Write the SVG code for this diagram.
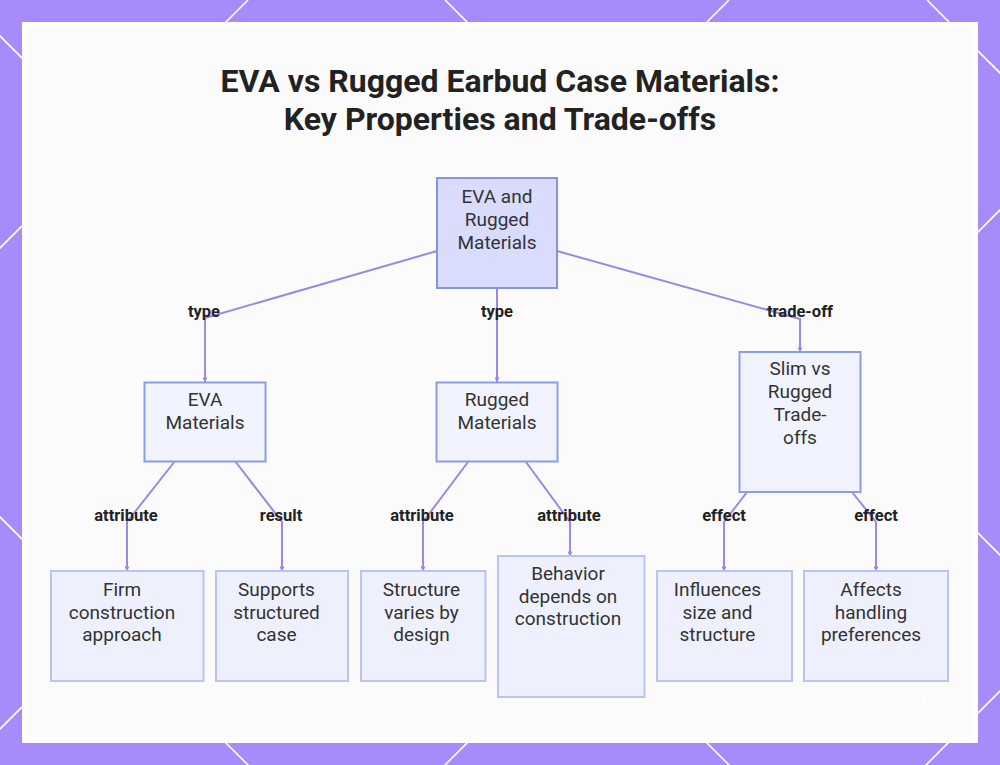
<svg xmlns="http://www.w3.org/2000/svg" width="1000" height="765" viewBox="0 0 1000 765">
  <defs>
    <style>
      .bgline { stroke: #ffffff; stroke-width: 1.6; fill: none; }
      .title { font-family: Roboto, "Liberation Sans", sans-serif; font-weight: 700; font-size: 32px; fill: #222222; text-anchor: middle; }
      .ntext { font-family: Roboto, "Liberation Sans", sans-serif; font-size: 19px; fill: #333333; text-anchor: middle; }
      .elabel { font-family: Roboto, "Liberation Sans", sans-serif; font-weight: 700; font-size: 16.5px; fill: #222222; text-anchor: middle; }
      .root { fill: #d9dcfc; stroke: #8494e2; stroke-width: 2; }
      .mid { fill: #f1f3fe; stroke: #8c9ce6; stroke-width: 2; }
      .leaf { fill: #eef1fd; stroke: #b9c3f4; stroke-width: 2; }
      .edge { fill: none; stroke: #9f86e2; stroke-width: 2; }
    </style>
    <marker id="arr" viewBox="0 0 6 6" refX="5.5" refY="3" markerWidth="2.5" markerHeight="2.5" orient="auto">
      <path d="M0,0 L6,3 L0,6 z" fill="#9f86e2"/>
    </marker>
  </defs>

  <!-- background -->
  <rect x="0" y="0" width="1000" height="765" fill="#a78bfa"/>
  <g id="bg-lines">
    <line class="bgline" x1="248" y1="0" x2="-752" y2="1000"/>
    <line class="bgline" x1="729" y1="0" x2="-271" y2="1000"/>
    <line class="bgline" x1="1210" y1="0" x2="210" y2="1000"/>
    <line class="bgline" x1="1691" y1="0" x2="691" y2="1000"/>
    <line class="bgline" x1="-517" y1="0" x2="483" y2="1000"/>
    <line class="bgline" x1="-36" y1="0" x2="964" y2="1000"/>
    <line class="bgline" x1="445" y1="0" x2="1445" y2="1000"/>
    <line class="bgline" x1="927" y1="0" x2="1927" y2="1000"/>
  </g>
  <rect x="22" y="22" width="956" height="721" fill="#ffffff"/>
  <rect x="28" y="28" width="944" height="709" fill="#fbfbfb"/>
  <circle cx="883" cy="688" r="43" fill="none" stroke="#ffffff" stroke-width="1.5" opacity="0.8"/>

  <!-- title -->
  <text class="title" x="500" y="92">EVA vs Rugged Earbud Case Materials:</text>
  <text class="title" x="500" y="130">Key Properties and Trade-offs</text>

  <!-- connectors -->
  <g id="connectors">
    <path class="edge" d="M437,251 L205,318 L205,382" marker-end="url(#arr)"/>
    <path class="edge" d="M497,288 L497,382" marker-end="url(#arr)"/>
    <path class="edge" d="M557,251 L800,319 L800,352" marker-end="url(#arr)"/>
    <path class="edge" d="M175,461 L127,522 L127,571" marker-end="url(#arr)"/>
    <path class="edge" d="M235,461 L282,522 L282,571" marker-end="url(#arr)"/>
    <path class="edge" d="M468,462 L423,522 L423,571" marker-end="url(#arr)"/>
    <path class="edge" d="M526,462 L570,522 L570,556" marker-end="url(#arr)"/>
    <path class="edge" d="M747,492 L724,522 L724,571" marker-end="url(#arr)"/>
    <path class="edge" d="M852,492 L876,522 L876,571" marker-end="url(#arr)"/>
    <text class="elabel" x="204" y="317">type</text>
    <text class="elabel" x="497" y="317">type</text>
    <text class="elabel" x="800" y="317">trade-off</text>
    <text class="elabel" x="126" y="521">attribute</text>
    <text class="elabel" x="281" y="521">result</text>
    <text class="elabel" x="422" y="521">attribute</text>
    <text class="elabel" x="569" y="521">attribute</text>
    <text class="elabel" x="724" y="521">effect</text>
    <text class="elabel" x="876" y="521">effect</text>
  </g>

  <!-- nodes -->
  <g id="root">
    <rect class="root" x="437" y="178" width="120" height="110"/>
    <text class="ntext" x="497" y="203">EVA and</text>
    <text class="ntext" x="497" y="226">Rugged</text>
    <text class="ntext" x="497" y="249">Materials</text>
  </g>
  <g id="eva">
    <rect class="mid" x="144.5" y="382.5" width="121" height="79"/>
    <text class="ntext" x="205" y="406">EVA</text>
    <text class="ntext" x="205" y="429">Materials</text>
  </g>
  <g id="rugged">
    <rect class="mid" x="436.5" y="382.5" width="121" height="79"/>
    <text class="ntext" x="497" y="406">Rugged</text>
    <text class="ntext" x="497" y="429">Materials</text>
  </g>
  <g id="tradeoffs">
    <rect class="mid" x="739.5" y="352" width="121" height="140"/>
    <text class="ntext" x="800" y="375">Slim vs</text>
    <text class="ntext" x="800" y="398">Rugged</text>
    <text class="ntext" x="800" y="421">Trade-</text>
    <text class="ntext" x="800" y="444">offs</text>
  </g>
  <g id="firm">
    <rect class="leaf" x="51" y="571" width="152.5" height="110"/>
    <text class="ntext" x="122" y="596">Firm</text>
    <text class="ntext" x="122" y="619">construction</text>
    <text class="ntext" x="122" y="641">approach</text>
  </g>
  <g id="supports">
    <rect class="leaf" x="216" y="571" width="132" height="110"/>
    <text class="ntext" x="276.5" y="596">Supports</text>
    <text class="ntext" x="276.5" y="619">structured</text>
    <text class="ntext" x="276.5" y="641">case</text>
  </g>
  <g id="structure">
    <rect class="leaf" x="361" y="571" width="124.5" height="110"/>
    <text class="ntext" x="421.5" y="596">Structure</text>
    <text class="ntext" x="421.5" y="619">varies by</text>
    <text class="ntext" x="421.5" y="641">design</text>
  </g>
  <g id="behavior">
    <rect class="leaf" x="498" y="556" width="146.5" height="141"/>
    <text class="ntext" x="568" y="580">Behavior</text>
    <text class="ntext" x="568" y="603">depends on</text>
    <text class="ntext" x="568" y="625">construction</text>
  </g>
  <g id="influences">
    <rect class="leaf" x="657" y="571" width="135" height="110"/>
    <text class="ntext" x="717.5" y="596">Influences</text>
    <text class="ntext" x="717.5" y="619">size and</text>
    <text class="ntext" x="717.5" y="641">structure</text>
  </g>
  <g id="affects">
    <rect class="leaf" x="804" y="571" width="144" height="110"/>
    <text class="ntext" x="871" y="596">Affects</text>
    <text class="ntext" x="871" y="619">handling</text>
    <text class="ntext" x="871" y="641">preferences</text>
  </g>
</svg>
